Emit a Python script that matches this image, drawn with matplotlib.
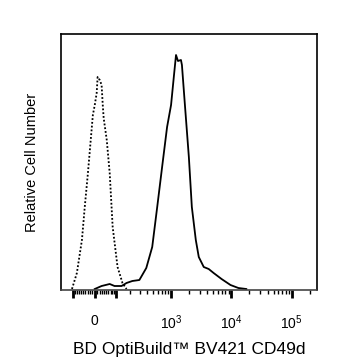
import numpy as np
import matplotlib
matplotlib.use("Agg")
import matplotlib.pyplot as plt

plt.rcParams['font.family'] = ['Liberation Sans', 'DejaVu Sans']
plt.rcParams['mathtext.default'] = 'regular'

# stained sample (solid) : fluorescence value, event count
stained_x = [0, 29, 66, 91, 133, 168, 217, 291, 327, 384, 485, 589, 712, 862,
             1004, 1124, 1214, 1309, 1466, 1522, 1706, 1983, 2222, 2585, 2895,
             3500, 4226, 5100, 6900, 9700, 13100, 17700]
stained_y = [1, 4, 6, 4, 4, 7, 9, 10, 15, 22, 43, 83, 123, 163,
             185, 215, 235, 229, 230, 225, 185, 133, 83, 50, 33,
             23, 21, 17, 11, 5, 2, 1]

# isotype control (dotted)
control_x = [-108, -81, -56, -43, -29, -17, -8, 0, 8, 12, 21, 29, 34, 38,
             52, 66, 81, 108, 139, 168]
control_y = [1, 17, 50, 83, 117, 150, 175, 185, 197, 213, 210, 205, 185, 172,
             150, 117, 63, 23, 7, 1]

major_ticks = [-100, 0, 100, 1e3, 1e4, 1e5]
major_labels = ['', '0', '', r'$10^3$', r'$10^4$', r'$10^5$']
minor_ticks = ([-v for v in range(10, 100, 10)] + list(range(10, 100, 10)) +
               list(range(200, 1000, 100)) + list(range(2000, 10000, 1000)) +
               list(range(20000, 100000, 10000)) + [200000])

W = 110.0


def fwd(x):
    return np.arcsinh(np.asarray(x) / W) / np.log(10)


def inv(y):
    return W * np.sinh(np.asarray(y) * np.log(10))


fig = plt.figure(figsize=(3.37, 3.60), dpi=100)
ax = fig.add_axes([61 / 337, 1 - 290 / 360, 256 / 337, 256 / 360])
ax.set_xscale('function', functions=(fwd, inv))

ax.plot(control_x, control_y, color='black', lw=1.3, linestyle=(0, (1, 1.1)))
ax.plot(stained_x, stained_y, color='black', lw=1.3)

ax.set_xlim(-184, 262143)
ax.set_ylim(0, 256)

ax.set_xticks(major_ticks)
ax.set_xticklabels(major_labels)
ax.set_xticks(minor_ticks, minor=True)
ax.tick_params(axis='x', which='major', length=6, width=2, pad=11,
               labelsize=10, direction='out')
ax.tick_params(axis='x', which='minor', length=3, width=1, direction='out')
ax.set_yticks([])

for s in ['left', 'right', 'top']:
    ax.spines[s].set_linewidth(1.2)
ax.spines['bottom'].set_linewidth(1.2)
ax.spines['bottom'].set_linestyle((0, (1, 1)))
ax.spines['bottom'].set_color('#444444')

ax.set_xlabel('BD OptiBuild™ BV421 CD49d', fontsize=12.5, labelpad=7)
ax.set_ylabel('Relative Cell Number', fontsize=10.5, labelpad=16)

fig.savefig('out.png', dpi=100)
